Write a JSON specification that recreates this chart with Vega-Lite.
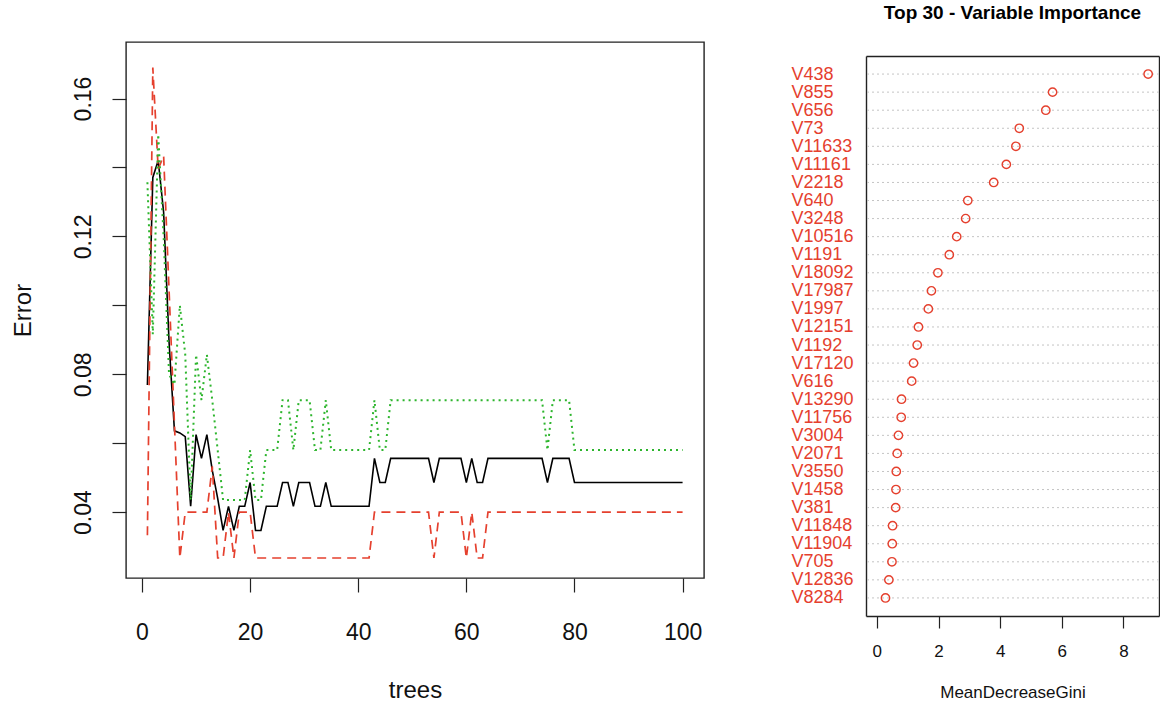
{
  "$schema": "https://vega.github.io/schema/vega-lite/v6.json",
  "background": "white",
  "padding": {"left": 10, "top": 4, "right": 0, "bottom": 0},
  "spacing": 86,
  "config": {
    "font": "Liberation Sans",
    "view": {"stroke": "#222222", "strokeWidth": 1.4}
  },
  "datasets": {
    "err": [
      {"t":1,"oob":0.0769,"c1":0.0333,"c2":0.1357},
      {"t":2,"oob":0.1371,"c1":0.1690,"c2":0.0916},
      {"t":3,"oob":0.1420,"c1":0.1395,"c2":0.1496},
      {"t":4,"oob":0.1270,"c1":0.1434,"c2":0.1200},
      {"t":5,"oob":0.0895,"c1":0.1046,"c2":0.0800},
      {"t":6,"oob":0.0636,"c1":0.0656,"c2":0.0770},
      {"t":7,"oob":0.0630,"c1":0.0267,"c2":0.1000},
      {"t":8,"oob":0.0619,"c1":0.0400,"c2":0.0857},
      {"t":9,"oob":0.0417,"c1":0.0400,"c2":0.0435},
      {"t":10,"oob":0.0625,"c1":0.0400,"c2":0.0857},
      {"t":11,"oob":0.0556,"c1":0.0400,"c2":0.0725},
      {"t":12,"oob":0.0625,"c1":0.0400,"c2":0.0857},
      {"t":13,"oob":0.0521,"c1":0.0533,"c2":0.0725},
      {"t":14,"oob":0.0440,"c1":0.0267,"c2":0.0580},
      {"t":15,"oob":0.0347,"c1":0.0267,"c2":0.0435},
      {"t":16,"oob":0.0417,"c1":0.0400,"c2":0.0435},
      {"t":17,"oob":0.0347,"c1":0.0267,"c2":0.0435},
      {"t":18,"oob":0.0417,"c1":0.0400,"c2":0.0435},
      {"t":19,"oob":0.0417,"c1":0.0400,"c2":0.0435},
      {"t":20,"oob":0.0486,"c1":0.0400,"c2":0.0580},
      {"t":21,"oob":0.0347,"c1":0.0267,"c2":0.0435},
      {"t":22,"oob":0.0347,"c1":0.0267,"c2":0.0435},
      {"t":23,"oob":0.0417,"c1":0.0267,"c2":0.0580},
      {"t":24,"oob":0.0417,"c1":0.0267,"c2":0.0580},
      {"t":25,"oob":0.0417,"c1":0.0267,"c2":0.0580},
      {"t":26,"oob":0.0486,"c1":0.0267,"c2":0.0725},
      {"t":27,"oob":0.0486,"c1":0.0267,"c2":0.0725},
      {"t":28,"oob":0.0417,"c1":0.0267,"c2":0.0580},
      {"t":29,"oob":0.0486,"c1":0.0267,"c2":0.0725},
      {"t":30,"oob":0.0486,"c1":0.0267,"c2":0.0725},
      {"t":31,"oob":0.0486,"c1":0.0267,"c2":0.0725},
      {"t":32,"oob":0.0417,"c1":0.0267,"c2":0.0580},
      {"t":33,"oob":0.0417,"c1":0.0267,"c2":0.0580},
      {"t":34,"oob":0.0486,"c1":0.0267,"c2":0.0725},
      {"t":35,"oob":0.0417,"c1":0.0267,"c2":0.0580},
      {"t":36,"oob":0.0417,"c1":0.0267,"c2":0.0580},
      {"t":37,"oob":0.0417,"c1":0.0267,"c2":0.0580},
      {"t":38,"oob":0.0417,"c1":0.0267,"c2":0.0580},
      {"t":39,"oob":0.0417,"c1":0.0267,"c2":0.0580},
      {"t":40,"oob":0.0417,"c1":0.0267,"c2":0.0580},
      {"t":41,"oob":0.0417,"c1":0.0267,"c2":0.0580},
      {"t":42,"oob":0.0417,"c1":0.0267,"c2":0.0580},
      {"t":43,"oob":0.0556,"c1":0.0400,"c2":0.0725},
      {"t":44,"oob":0.0486,"c1":0.0400,"c2":0.0580},
      {"t":45,"oob":0.0486,"c1":0.0400,"c2":0.0580},
      {"t":46,"oob":0.0556,"c1":0.0400,"c2":0.0725},
      {"t":47,"oob":0.0556,"c1":0.0400,"c2":0.0725},
      {"t":48,"oob":0.0556,"c1":0.0400,"c2":0.0725},
      {"t":49,"oob":0.0556,"c1":0.0400,"c2":0.0725},
      {"t":50,"oob":0.0556,"c1":0.0400,"c2":0.0725},
      {"t":51,"oob":0.0556,"c1":0.0400,"c2":0.0725},
      {"t":52,"oob":0.0556,"c1":0.0400,"c2":0.0725},
      {"t":53,"oob":0.0556,"c1":0.0400,"c2":0.0725},
      {"t":54,"oob":0.0486,"c1":0.0267,"c2":0.0725},
      {"t":55,"oob":0.0556,"c1":0.0400,"c2":0.0725},
      {"t":56,"oob":0.0556,"c1":0.0400,"c2":0.0725},
      {"t":57,"oob":0.0556,"c1":0.0400,"c2":0.0725},
      {"t":58,"oob":0.0556,"c1":0.0400,"c2":0.0725},
      {"t":59,"oob":0.0556,"c1":0.0400,"c2":0.0725},
      {"t":60,"oob":0.0486,"c1":0.0267,"c2":0.0725},
      {"t":61,"oob":0.0556,"c1":0.0400,"c2":0.0725},
      {"t":62,"oob":0.0486,"c1":0.0267,"c2":0.0725},
      {"t":63,"oob":0.0486,"c1":0.0267,"c2":0.0725},
      {"t":64,"oob":0.0556,"c1":0.0400,"c2":0.0725},
      {"t":65,"oob":0.0556,"c1":0.0400,"c2":0.0725},
      {"t":66,"oob":0.0556,"c1":0.0400,"c2":0.0725},
      {"t":67,"oob":0.0556,"c1":0.0400,"c2":0.0725},
      {"t":68,"oob":0.0556,"c1":0.0400,"c2":0.0725},
      {"t":69,"oob":0.0556,"c1":0.0400,"c2":0.0725},
      {"t":70,"oob":0.0556,"c1":0.0400,"c2":0.0725},
      {"t":71,"oob":0.0556,"c1":0.0400,"c2":0.0725},
      {"t":72,"oob":0.0556,"c1":0.0400,"c2":0.0725},
      {"t":73,"oob":0.0556,"c1":0.0400,"c2":0.0725},
      {"t":74,"oob":0.0556,"c1":0.0400,"c2":0.0725},
      {"t":75,"oob":0.0486,"c1":0.0400,"c2":0.0580},
      {"t":76,"oob":0.0556,"c1":0.0400,"c2":0.0725},
      {"t":77,"oob":0.0556,"c1":0.0400,"c2":0.0725},
      {"t":78,"oob":0.0556,"c1":0.0400,"c2":0.0725},
      {"t":79,"oob":0.0556,"c1":0.0400,"c2":0.0725},
      {"t":80,"oob":0.0486,"c1":0.0400,"c2":0.0580},
      {"t":81,"oob":0.0486,"c1":0.0400,"c2":0.0580},
      {"t":82,"oob":0.0486,"c1":0.0400,"c2":0.0580},
      {"t":83,"oob":0.0486,"c1":0.0400,"c2":0.0580},
      {"t":84,"oob":0.0486,"c1":0.0400,"c2":0.0580},
      {"t":85,"oob":0.0486,"c1":0.0400,"c2":0.0580},
      {"t":86,"oob":0.0486,"c1":0.0400,"c2":0.0580},
      {"t":87,"oob":0.0486,"c1":0.0400,"c2":0.0580},
      {"t":88,"oob":0.0486,"c1":0.0400,"c2":0.0580},
      {"t":89,"oob":0.0486,"c1":0.0400,"c2":0.0580},
      {"t":90,"oob":0.0486,"c1":0.0400,"c2":0.0580},
      {"t":91,"oob":0.0486,"c1":0.0400,"c2":0.0580},
      {"t":92,"oob":0.0486,"c1":0.0400,"c2":0.0580},
      {"t":93,"oob":0.0486,"c1":0.0400,"c2":0.0580},
      {"t":94,"oob":0.0486,"c1":0.0400,"c2":0.0580},
      {"t":95,"oob":0.0486,"c1":0.0400,"c2":0.0580},
      {"t":96,"oob":0.0486,"c1":0.0400,"c2":0.0580},
      {"t":97,"oob":0.0486,"c1":0.0400,"c2":0.0580},
      {"t":98,"oob":0.0486,"c1":0.0400,"c2":0.0580},
      {"t":99,"oob":0.0486,"c1":0.0400,"c2":0.0580},
      {"t":100,"oob":0.0486,"c1":0.0400,"c2":0.0580}
    ],
    "imp": [
      {"var":"V438","gini":8.80},
      {"var":"V855","gini":5.70},
      {"var":"V656","gini":5.48},
      {"var":"V73","gini":4.62},
      {"var":"V11633","gini":4.51},
      {"var":"V11161","gini":4.20},
      {"var":"V2218","gini":3.79},
      {"var":"V640","gini":2.95},
      {"var":"V3248","gini":2.88},
      {"var":"V10516","gini":2.59},
      {"var":"V1191","gini":2.35},
      {"var":"V18092","gini":1.98},
      {"var":"V17987","gini":1.77},
      {"var":"V1997","gini":1.67},
      {"var":"V12151","gini":1.35},
      {"var":"V1192","gini":1.31},
      {"var":"V17120","gini":1.19},
      {"var":"V616","gini":1.13},
      {"var":"V13290","gini":0.80},
      {"var":"V11756","gini":0.79},
      {"var":"V3004","gini":0.70},
      {"var":"V2071","gini":0.66},
      {"var":"V3550","gini":0.63},
      {"var":"V1458","gini":0.62},
      {"var":"V381","gini":0.61},
      {"var":"V11848","gini":0.51},
      {"var":"V11904","gini":0.50},
      {"var":"V705","gini":0.49},
      {"var":"V12836","gini":0.39},
      {"var":"V8284","gini":0.28}
    ]
  },
  "hconcat": [
    {
      "width": 578,
      "height": 536,
      "data": {"name": "err"},
      "encoding": {
        "x": {
          "field": "t", "type": "quantitative",
          "scale": {"domain": [-2.96, 103.96], "nice": false, "zero": false},
          "axis": {
            "values": [0, 20, 40, 60, 80, 100], "grid": false, "domain": false,
            "tickColor": "#222", "tickSize": 14, "tickWidth": 1.2,
            "labelFontSize": 23, "labelColor": "#111", "labelBaseline": "middle", "labelPadding": 40,
            "title": "trees", "titleFontSize": 24, "titleFontWeight": "normal", "titleColor": "#111",
            "titleBaseline": "middle", "titleY": 112
          }
        }
      },
      "layer": [
        {
          "mark": {"type": "line", "color": "#000000", "strokeWidth": 1.6},
          "encoding": {
            "y": {
              "field": "oob", "type": "quantitative",
              "scale": {"domain": [0.0209, 0.1764], "nice": false, "zero": false},
              "axis": {
                "values": [0.04, 0.06, 0.08, 0.10, 0.12, 0.14, 0.16], "grid": false, "domain": false,
                "labelExpr": "(round(datum.value*100) % 4 == 0) ? format(datum.value, '.2f') : ''",
                "tickColor": "#222", "tickSize": 14, "tickWidth": 1.2,
                "labelFontSize": 23, "labelColor": "#111", "labelAngle": -90,
                "labelAlign": "center", "labelBaseline": "middle", "labelPadding": 29,
                "title": "Error", "titleFontSize": 24, "titleFontWeight": "normal", "titleColor": "#111",
                "titleBaseline": "middle", "titleX": -103
              }
            }
          }
        },
        {
          "mark": {"type": "line", "color": "#E5402E", "strokeWidth": 1.7, "strokeDash": [9, 6]},
          "encoding": {"y": {"field": "c1", "type": "quantitative"}}
        },
        {
          "mark": {"type": "line", "color": "#2DB52D", "strokeWidth": 2, "strokeDash": [2, 4]},
          "encoding": {"y": {"field": "c2", "type": "quantitative"}}
        }
      ]
    },
    {
      "width": 293,
      "height": 574,
      "view": {"stroke": null},
      "title": {"text": "Top 30 - Variable Importance", "fontSize": 19, "fontWeight": "bold", "offset": 4, "baseline": "alphabetic", "anchor": "middle", "color": "#000"},
      "data": {"name": "imp"},
      "resolve": {"axis": {"x": "independent", "y": "independent"}},
      "layer": [
        {
          "mark": {"type": "rule", "color": "#c4c4c4", "strokeDash": [2, 3], "strokeWidth": 1},
          "encoding": {
            "y": {
              "field": "var", "type": "nominal",
              "sort": {"field": "gini", "order": "descending"},
              "scale": {"type": "point", "padding": 1, "range": [14, 574]},
              "axis": {
                "title": null, "domain": true, "domainColor": "#222", "domainWidth": 1.4,
                "ticks": false, "tickSize": 0, "grid": false,
                "labelAlign": "left", "labelPadding": 75, "labelFontSize": 18, "labelColor": "#E5402E", "labelBaseline": "middle"
              }
            }
          }
        },
        {
          "mark": {"type": "point", "shape": "circle", "filled": false, "color": "#E5402E", "size": 70, "strokeWidth": 1.4, "opacity": 1},
          "encoding": {
            "y": {
              "field": "var", "type": "nominal",
              "sort": {"field": "gini", "order": "descending"},
              "axis": null
            },
            "x": {
              "field": "gini", "type": "quantitative",
              "scale": {"domain": [-0.352, 9.152], "nice": false, "zero": false},
              "axis": {
                "values": [0, 2, 4, 6, 8], "grid": false,
                "domain": true, "domainColor": "#222", "domainWidth": 1.4,
                "tickColor": "#222", "tickSize": 12, "tickWidth": 1.2,
                "labelFontSize": 17, "labelColor": "#111", "labelBaseline": "middle", "labelPadding": 23,
                "title": "MeanDecreaseGini", "titleFontSize": 17, "titleFontWeight": "normal", "titleColor": "#111",
                "titleBaseline": "middle", "titleY": 76
              }
            }
          }
        },
        {
          "mark": {"type": "point", "opacity": 0},
          "encoding": {
            "y": {
              "field": "var", "type": "nominal",
              "sort": {"field": "gini", "order": "descending"},
              "axis": {"orient": "right", "title": null, "labels": false, "ticks": false, "grid": false,
                       "domain": true, "domainColor": "#222", "domainWidth": 1.4}
            },
            "x": {
              "field": "gini", "type": "quantitative",
              "axis": {"orient": "top", "title": null, "labels": false, "ticks": false, "grid": false,
                       "offset": -14, "domain": true, "domainColor": "#222", "domainWidth": 1.4}
            }
          }
        }
      ]
    }
  ]
}
